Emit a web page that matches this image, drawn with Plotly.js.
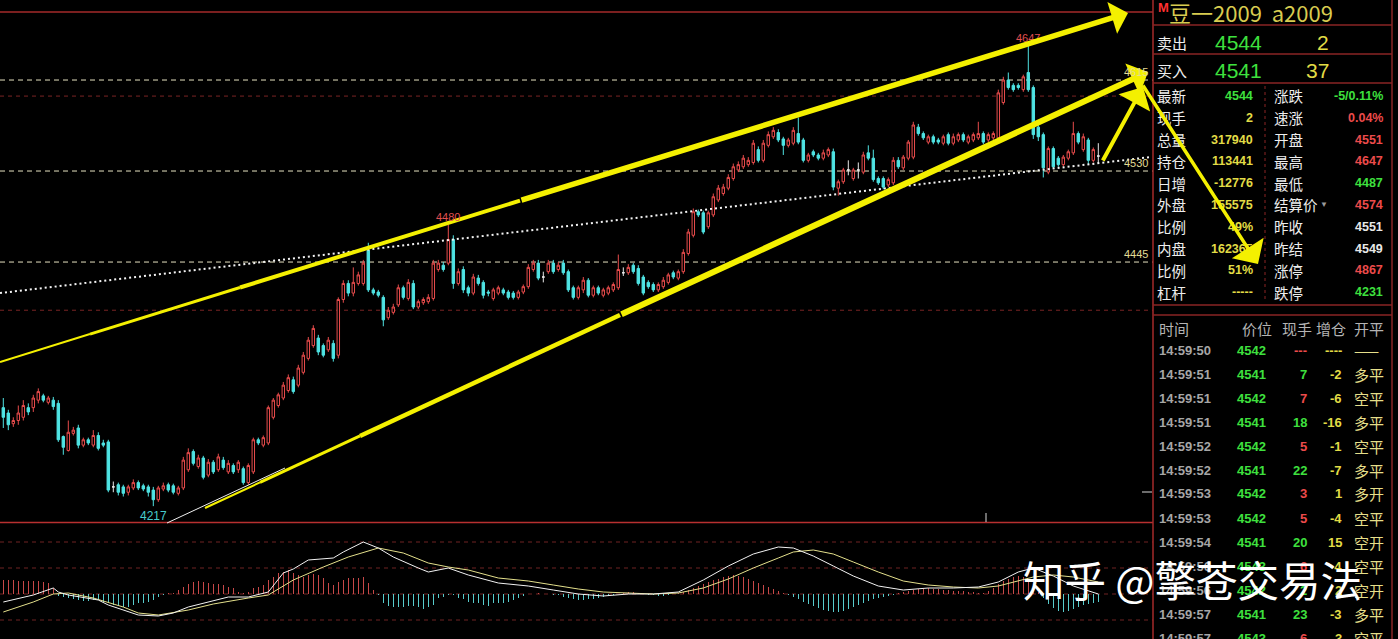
<!DOCTYPE html>
<html><head><meta charset="utf-8">
<script src="https://cdn.plot.ly/plotly-3.0.1.min.js"></script>
<style>html,body{margin:0;padding:0;background:#000;overflow:hidden}#chart{width:1398px;height:639px}</style>
</head><body><div id="chart"></div>
<script>
// ---------- DATA ----------
const openP = [4309,4304,4294,4297,4300,4309,4309,4316,4320,4314,4316,4313,4282,4269,4285,4290,4274,4279,4274,4283,4276,4277,4235,4237,4235,4230,4234,4239,4236,4235,4232,4223,4233,4237,4236,4229,4234,4251,4268,4254,4262,4246,4258,4251,4260,4249,4255,4251,4252,4239,4249,4279,4274,4276,4300,4311,4318,4325,4335,4330,4342,4355,4367,4374,4367,4363,4369,4358,4410,4425,4416,4425,4425,4456,4419,4417,4412,4393,4398,4405,4421,4411,4425,4403,4407,4408,4411,4438,4442,4444,4466,4425,4438,4421,4416,4430,4426,4417,4411,4416,4419,4417,4416,4412,4417,4422,4438,4444,4431,4436,4444,4438,4444,4436,4421,4412,4419,4428,4414,4421,4414,4416,4419,4421,4435,4435,4442,4439,4431,4426,4424,4419,4422,4426,4435,4430,4436,4453,4470,4492,4491,4478,4489,4503,4509,4514,4523,4531,4534,4536,4538,4550,4540,4554,4562,4566,4560,4554,4556,4565,4559,4540,4548,4545,4542,4545,4548,4514,4520,4531,4523,4531,4529,4547,4542,4523,4523,4517,4519,4540,4533,4542,4543,4571,4565,4557,4562,4559,4556,4564,4556,4559,4564,4557,4559,4561,4565,4559,4561,4561,4594,4615,4610,4610,4606,4622,4608,4571,4564,4529,4551,4542,4536,4542,4547,4565,4550,4559,4540,4544];
const highP = [4318,4307,4300,4311,4316,4313,4321,4327,4322,4320,4319,4316,4283,4297,4291,4293,4281,4281,4288,4286,4279,4279,4240,4239,4237,4237,4242,4241,4238,4237,4235,4236,4239,4239,4238,4236,4263,4271,4270,4265,4264,4261,4260,4266,4263,4260,4257,4260,4254,4257,4281,4281,4283,4311,4318,4323,4333,4340,4338,4349,4361,4375,4386,4377,4369,4375,4372,4412,4428,4428,4440,4436,4447,4463,4421,4419,4414,4403,4406,4424,4423,4429,4428,4410,4412,4415,4447,4447,4445,4480,4470,4439,4441,4423,4434,4433,4428,4419,4421,4423,4421,4419,4418,4419,4424,4443,4447,4447,4436,4447,4447,4445,4447,4438,4423,4423,4431,4430,4423,4423,4421,4423,4426,4452,4440,4443,4444,4442,4433,4428,4426,4426,4431,4435,4437,4438,4457,4476,4495,4494,4493,4493,4509,4517,4518,4527,4537,4539,4545,4543,4559,4553,4559,4567,4571,4569,4562,4561,4571,4580,4561,4547,4550,4547,4550,4552,4551,4522,4533,4540,4533,4538,4548,4554,4550,4525,4525,4524,4543,4543,4545,4559,4576,4574,4567,4564,4564,4561,4564,4566,4565,4566,4566,4564,4566,4576,4567,4566,4567,4606,4618,4622,4612,4612,4620,4647,4610,4573,4566,4553,4553,4544,4545,4550,4576,4567,4565,4561,4552,4556];
const lowP = [4290,4288,4291,4293,4297,4302,4305,4313,4314,4312,4307,4277,4265,4268,4283,4271,4272,4274,4272,4269,4272,4230,4230,4227,4226,4227,4232,4232,4231,4226,4217,4221,4231,4230,4228,4227,4232,4249,4255,4252,4242,4244,4247,4249,4251,4247,4247,4248,4237,4237,4247,4274,4272,4274,4298,4309,4316,4323,4322,4328,4340,4353,4365,4358,4356,4361,4352,4355,4407,4413,4413,4423,4423,4417,4414,4412,4385,4391,4396,4403,4410,4409,4401,4401,4405,4406,4409,4436,4436,4442,4420,4423,4416,4413,4414,4423,4411,4413,4409,4414,4414,4410,4410,4410,4415,4420,4436,4428,4426,4434,4434,4436,4433,4417,4410,4410,4416,4412,4412,4414,4412,4414,4417,4419,4432,4433,4434,4423,4414,4420,4417,4417,4420,4424,4429,4428,4434,4451,4468,4487,4471,4476,4487,4501,4507,4512,4521,4529,4532,4534,4536,4538,4538,4552,4560,4557,4545,4552,4554,4555,4538,4538,4543,4540,4540,4543,4512,4507,4518,4526,4521,4523,4527,4540,4520,4517,4513,4515,4517,4532,4531,4540,4541,4563,4559,4555,4555,4555,4554,4554,4554,4557,4557,4555,4557,4559,4555,4557,4559,4559,4592,4606,4604,4606,4604,4604,4560,4558,4524,4527,4532,4534,4534,4540,4545,4555,4548,4536,4538,4537];
const closeP = [4300,4293,4297,4304,4311,4305,4318,4324,4316,4318,4310,4279,4272,4286,4288,4274,4279,4276,4283,4271,4274,4232,4235,4230,4229,4235,4239,4234,4233,4230,4223,4234,4236,4232,4230,4234,4260,4267,4257,4262,4244,4258,4249,4263,4253,4257,4249,4258,4239,4255,4279,4276,4281,4309,4316,4321,4330,4337,4324,4346,4358,4372,4383,4361,4358,4372,4355,4410,4425,4416,4426,4433,4444,4419,4416,4414,4391,4400,4403,4421,4412,4426,4403,4408,4410,4412,4444,4444,4438,4466,4425,4436,4419,4416,4431,4425,4414,4416,4419,4421,4416,4412,4412,4417,4422,4440,4444,4430,4431,4444,4436,4442,4435,4419,4412,4421,4428,4414,4421,4416,4419,4421,4424,4438,4435,4440,4436,4425,4416,4422,4419,4424,4428,4433,4431,4436,4454,4473,4492,4489,4473,4491,4506,4514,4515,4524,4534,4536,4542,4540,4556,4540,4556,4564,4568,4559,4554,4559,4568,4557,4540,4545,4545,4542,4547,4550,4515,4520,4531,4531,4531,4531,4545,4542,4522,4519,4515,4522,4540,4534,4543,4557,4573,4565,4561,4562,4557,4557,4562,4556,4562,4564,4559,4562,4564,4565,4557,4564,4565,4603,4615,4608,4606,4608,4618,4606,4564,4562,4533,4551,4534,4536,4543,4548,4565,4557,4562,4540,4550,4544];
const macdHist = [14,14,14,13,13,13,13,13,12,11,6,-2,-3,-4,-5,-6,-7,-7,-6,-6,-8,-9,-11,-12,-13,-13,-11,-9,-9,-8,-6,-3,-1,1,1,4,7,10,12,13,12,11,10,10,9,7,6,2,1,2,6,7,9,14,17,21,22,24,21,19,17,19,20,19,16,11,9,12,14,16,16,16,17,11,4,-1,-9,-12,-13,-13,-13,-12,-12,-13,-15,-13,-11,-4,-3,-1,-1,-4,-5,-8,-9,-9,-11,-12,-9,-9,-9,-8,-6,-4,-2,0,0,1,0,0,-1,-1,-3,-4,-5,-6,-6,-5,-5,-4,-3,-2,-1,0,1,2,2,1,0,-1,-1,-2,-2,-1,0,1,2,4,6,8,10,12,14,15,17,18,19,18,17,15,13,11,9,7,5,3,1,-1,-3,-5,-8,-10,-12,-14,-16,-17,-18,-18,-17,-15,-13,-11,-9,-7,-5,-4,-3,-2,-1,1,2,3,4,5,5,6,5,5,4,4,3,3,3,2,2,1,1,3,6,10,13,15,17,18,17,14,8,2,-4,-10,-14,-17,-18,-17,-15,-13,-11,-10,-9,-8];
const difIdx = [0,6,10,11,13,19,21,25,27,31,34,37,41,45,49,53,56,58,61,65,66,68,72,75,78,83,85,89,93,99,105,110,115,120,125,130,135,140,145,150,155,158,162,166,170,175,180,185,190,195,199,203,206,210,214,219];
const difVal = [-8,-1,6,2,-1,-6,-11,-18,-21,-22,-19,-13,-8,-3,-3,2,21,25,34,36,36,42,52,46,37,26,22,26,19,11,8,4,0,-2,0,0,2,14,28,40,47,46,38,28,18,8,4,6,6,7,12,22,26,18,8,0];
const deaIdx = [0,6,10,13,18,24,27,31,37,42,49,53,58,64,69,75,80,85,89,93,99,105,110,115,120,125,130,135,140,145,150,155,158,162,166,170,175,180,185,190,195,199,203,206,210,214,219];
const deaVal = [-18,-8,0,1,-4,-13,-19,-21,-16,-10,-4,-1,14,27,37,46,41,31,27,24,16,13,9,5,2,1,0,1,6,15,26,36,42,44,40,32,22,13,9,7,6,8,13,17,19,17,12];
const levelPrices = [4615, 4530, 4445];
const gridPrices = [4600, 4400];
const macdGrid = [52, 26, 0, -26];
const extremeIdx = [205, 89, 30];
const trendPrices = [4416, 4543];

const quoteTitle = '豆一2009  a2009';
const bookLabels = ['卖出', '买入'];
const bookPrices = ['4544', '4541'];
const bookSizes = ['2', '37'];
const leftLabels = ['最新','现手','总量','持仓','日增','外盘','比例','内盘','比例','杠杆'];
const leftValues = ['4544','2','317940','113441','-12776','155575','49%','162365','51%','-----'];
const leftColors = ['g','y','y','y','y','y','y','y','y','y'];
const rightLabels = ['涨跌','速涨','开盘','最高','最低','结算价','昨收','昨结','涨停','跌停'];
const rightValues = ['-5/0.11%','0.04%','4551','4647','4487','4574','4551','4549','4867','4231'];
const rightColors = ['g','r','r','r','g','r','w','w','r','g'];
const tickHeader = ['时间','价位','现手','增仓','开平'];
const tickTimes = ['14:59:50','14:59:51','14:59:51','14:59:51','14:59:52','14:59:52','14:59:53','14:59:53','14:59:54','14:59:56','14:59:56','14:59:57','14:59:57'];
const tickPrices = ['4542','4541','4542','4541','4542','4541','4542','4542','4541','4543','4542','4541','4543'];
const tickVols = ['---','7','7','18','5','22','3','5','20','6','2','23','6'];
const tickVolColors = ['r','g','r','g','r','g','r','r','g','r','g','g','r'];
const tickOI = ['----','-2','-6','-16','-1','-7','1','-4','15','-4','2','-3','3'];
const tickType = ['——','多平','空平','多平','空平','多平','多开','空平','空开','空平','空开','多平','空平'];
const watermark = '知乎 @擎苍交易法';

// ---------- STYLE ----------
const W = 1398, H = 639;
const CJK = 'Noto Sans CJK SC';
const NUM = 'Liberation Sans, Arial, sans-serif';
const COL = {g:'#3ee03e', y:'#e2dc46', r:'#ec4b4b', w:'#e8e8e8'};
const RED = '#e84c4c', CYAN = '#4fe3e3', YEL = '#f4f000';
const idx = openP.map((_, i) => i);
const X = v => v / W, Y = v => 1 - v / H;

// ---------- TRACES ----------
const normal = idx.filter(i => openP[i] !== closeP[i]);
const doji = idx.filter(i => openP[i] === closeP[i]);
const pick = (arr, sel) => sel.map(i => arr[i]);
const traces = [
  {type:'candlestick', x: normal, open: pick(openP, normal), high: pick(highP, normal), low: pick(lowP, normal), close: pick(closeP, normal),
   increasing:{line:{color:RED, width:1}, fillcolor:'#000'}, decreasing:{line:{color:CYAN, width:1}, fillcolor:CYAN},
   whiskerwidth:0, hoverinfo:'skip'},
  {type:'candlestick', x: doji, open: pick(openP, doji), high: pick(highP, doji), low: pick(lowP, doji), close: pick(closeP, doji),
   increasing:{line:{color:'#e8e8e8', width:1}, fillcolor:'#e8e8e8'}, decreasing:{line:{color:'#e8e8e8', width:1}, fillcolor:'#e8e8e8'},
   whiskerwidth:0, hoverinfo:'skip'},
  {type:'bar', x: idx, y: macdHist, yaxis:'y2', width:0.3,
   marker:{color: macdHist.map(v => v >= 0 ? '#c84848' : '#58cccc'), line:{width:0}}, hoverinfo:'skip'},
  {type:'scatter', mode:'lines', x: deaIdx, y: deaVal, yaxis:'y2', line:{color:'#e4e08c', width:1}, hoverinfo:'skip'},
  {type:'scatter', mode:'lines', x: difIdx, y: difVal, yaxis:'y2', line:{color:'#f2f2f2', width:1}, hoverinfo:'skip'},
  {type:'scatter', mode:'lines', x: [-0.66, 229.3], y: trendPrices, line:{color:'#f4f4f4', width:2, dash:'2px,3px'}, hoverinfo:'skip'}
];

// ---------- SHAPES ----------
const shapes = [];
const seg = (x0, y0, x1, y1, color, width, dash) => shapes.push({type:'line', xref:'paper', yref:'paper', x0:X(x0), y0:Y(y0), x1:X(x1), y1:Y(y1), line:{color, width, dash: dash || 'solid'}});
gridPrices.forEach(p => shapes.push({type:'line', xref:'paper', yref:'y', x0:0, x1:X(1153), y0:p, y1:p, layer:'below', line:{color:'#7a2424', width:1, dash:'4px,4px'}}));
levelPrices.forEach(p => shapes.push({type:'line', xref:'paper', yref:'y', x0:0, x1:X(1153), y0:p, y1:p, layer:'below', line:{color:'#e6e2c0', width:1, dash:'5px,4px'}}));
macdGrid.forEach(v => shapes.push({type:'line', xref:'paper', yref:'y2', x0:0, x1:X(1153), y0:v, y1:v, layer:'below', line:{color:'#6e2222', width:1, dash:'4px,4px'}}));
seg(0, 12, 1153, 12, '#a42a2a', 1.5);
seg(0, 522.5, 1153, 522.5, '#b83030', 1.5);
seg(1153, 0, 1153, 639, '#a42a2a', 1.5);
seg(1392, 0, 1392, 639, '#8a2424', 1.5);
[25, 54, 83, 305, 315].forEach(y => seg(1153, y, 1392, y, '#8a2424', 1.5));
seg(1265, 86, 1265, 302, '#8a2424', 1, '3px,3px');
seg(986, 513, 986, 522, '#d8d8d8', 1);
seg(1142, 492, 1152, 492, '#d8d8d8', 1);
// software trendline under the lower yellow line
seg(167, 523, 285, 468, '#f0f0f0', 1);
// tapered starts of the yellow lines (upper line y = 362 - 0.3103x, lower y = 508 - 0.465(x-205))
const upY = x => 362 - 0.3103 * x;
const loY = x => 508 - 0.465 * (x - 205);
seg(0, upY(0), 90, upY(90), YEL, 2);
seg(90, upY(90), 240, upY(240), YEL, 3);
seg(240, upY(240), 520, upY(520), YEL, 4);
seg(205, loY(205), 260, loY(260), YEL, 2);
seg(260, loY(260), 360, loY(360), YEL, 3);
seg(360, loY(360), 620, loY(620), YEL, 4.5);

// ---------- ANNOTATIONS ----------
const ann = [];
const txt = (t, x, y, color, size, anchor, family, weight) => ann.push({xref:'paper', yref:'paper', x:X(x), y:Y(y), xanchor:anchor || 'left', yanchor:'middle', text:t, showarrow:false, font:{family: family || NUM, size, color, weight: weight || 'normal'}});

// header
txt('M', 1156, 7, '#ff3030', 13, 'left', NUM, 'bold');
txt(quoteTitle, 1167, 12, '#d8cc50', 22, 'left', CJK);
bookLabels.forEach((l, k) => {
  const y = 42 + 28 * k;
  txt(l, 1155, y, '#eeeeee', 15, 'left', CJK);
  txt(bookPrices[k], 1264, y, COL.g, 21, 'right', NUM);
  txt(bookSizes[k], 1331, y, COL.y, 21, 'right', NUM);
});
leftLabels.forEach((l, k) => {
  const y = 96 + 21.8 * k;
  txt(l, 1155, y, '#eeeeee', 14.5, 'left', CJK);
  txt(leftValues[k], 1255, y, COL[leftColors[k]], 12.5, 'right', NUM, 'bold');
  txt(rightLabels[k], 1272, y, '#eeeeee', 14.5, 'left', CJK);
  txt(rightValues[k], 1385, y, COL[rightColors[k]], 12.5, 'right', NUM, 'bold');
});
txt('▼', 1318, 205, '#9a9a9a', 8, 'left', NUM);
// tick table
const hx = [1157, 1240, 1280, 1314, 1352];
tickHeader.forEach((h, k) => txt(h, hx[k], 328, '#b4b4b4', 15, 'left', CJK));
tickTimes.forEach((t, k) => {
  const y = 350 + 24 * k;
  txt(t, 1157, y, '#a6a6a6', 13, 'left', NUM, 'bold');
  txt(tickPrices[k], 1268, y, COL.g, 13, 'right', NUM, 'bold');
  txt(tickVols[k], 1309, y, COL[tickVolColors[k]], 13, 'right', NUM, 'bold');
  txt(tickOI[k], 1344, y, COL.y, 13, 'right', NUM, 'bold');
  txt(tickType[k], 1352, y, '#e6df8a', 15, 'left', CJK);
});
// chart labels
const extremeColors = ['#e05050', '#e05050', '#48cccc'];
extremeIdx.forEach((i, k) => {
  const isLow = k === 2;
  ann.push({xref:'x', yref:'y', x:i, y: isLow ? lowP[i] : highP[i], yshift: isLow ? -10 : 8, text: String(isLow ? lowP[i] : highP[i]),
    showarrow:false, font:{family:NUM, size: isLow ? 12 : 11, color: extremeColors[k]}});
});
// yellow arrows
const arrow = (tx, ty, sx, sy, w, s) => ann.push({xref:'paper', yref:'paper', x:X(tx), y:Y(ty), ax: sx - tx, ay: sy - ty, axref:'pixel', ayref:'pixel',
  text:'', showarrow:true, arrowhead:1, arrowsize:s, arrowwidth:w, arrowcolor:YEL, standoff:0});
arrow(1128, 13, 520, upY(520), 5.5, 1.0);
arrow(1148, 72, 620, loY(620), 6, 0.95);
arrow(1143, 87, 1102, 162, 4, 1.5);
arrow(1258, 264, 1142, 84, 3.5, 1.8);
// level labels at the right edge of the price area
levelPrices.forEach(p => ann.push({xref:'paper', yref:'y', x:X(1150), y:p, yshift:8, xanchor:'right', text:String(p), showarrow:false,
  font:{family:NUM, size:11, color:'#e2dc96'}}));
// watermark
ann.push({xref:'paper', yref:'paper', x:X(1021), y:Y(579), xanchor:'left', yanchor:'middle', text:watermark, showarrow:false,
  font:{family:CJK, size:41.5, color:'#ffffff'}});

const layout = {
  width:W, height:H, margin:{l:0, r:0, t:0, b:0}, paper_bgcolor:'#000', plot_bgcolor:'rgba(0,0,0,0)', showlegend:false,
  xaxis:{domain:[0, X(1153)], range:[-0.66, 229.94], visible:false, rangeslider:{visible:false}, fixedrange:true},
  yaxis:{domain:[1 - 522 / H, 1 - 13 / H], range:[4202.2, 4677.6], visible:false, fixedrange:true},
  yaxis2:{domain:[0, 1 - 522 / H], range:[-45, 72], visible:false, anchor:'x', fixedrange:true},
  shapes, annotations: ann, bargap:0
};
Plotly.newPlot('chart', traces, layout, {staticPlot:true, displayModeBar:false});
</script></body></html>
